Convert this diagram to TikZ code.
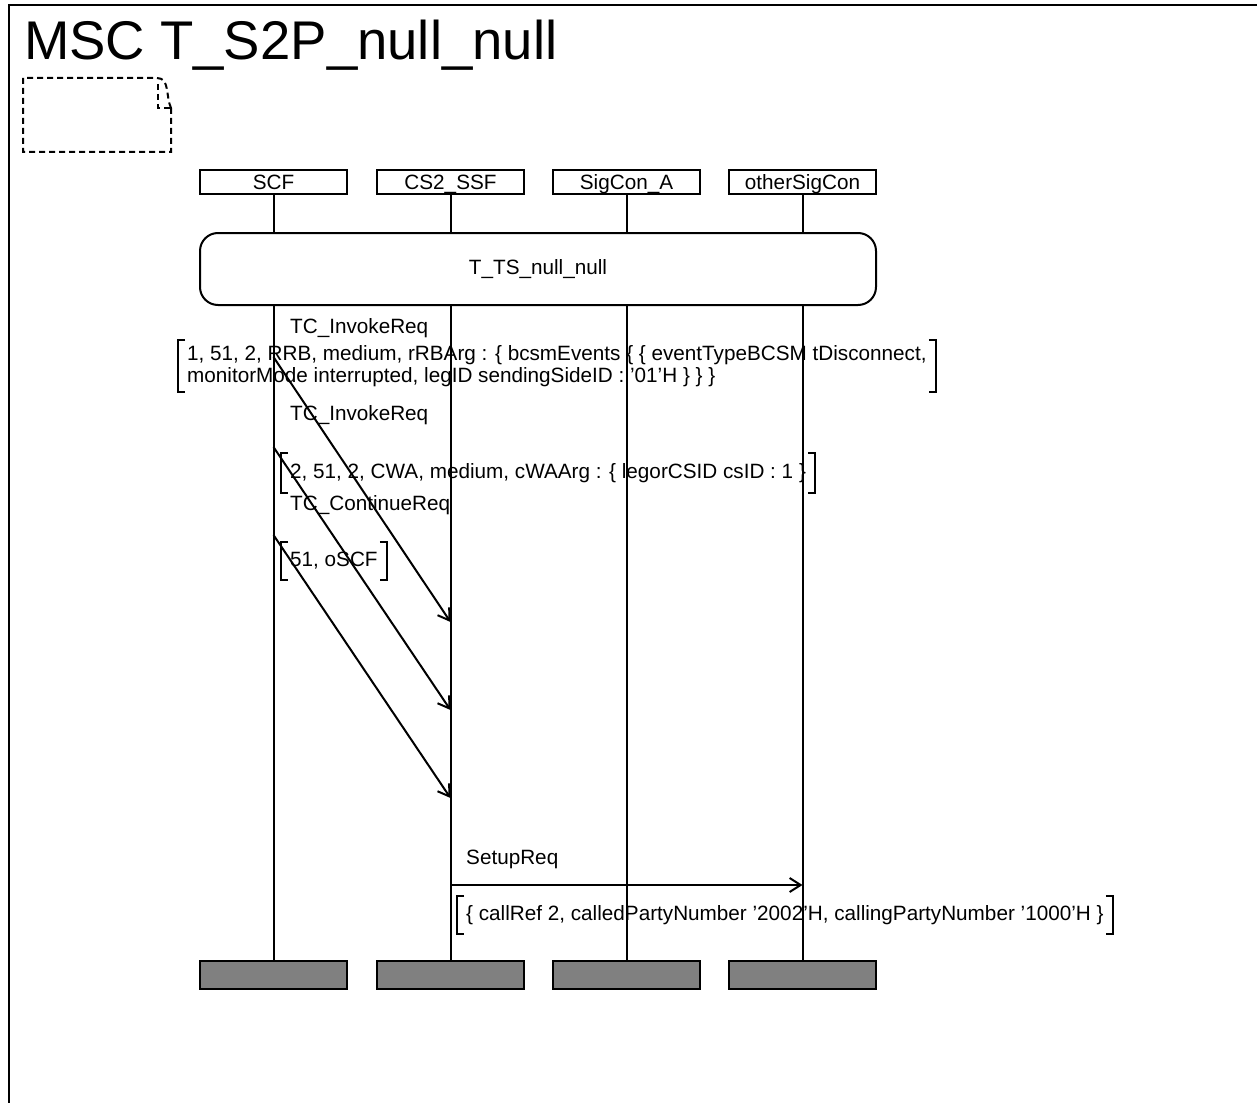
\documentclass[tikz,border=0pt]{standalone}
\usepackage{fontspec}
\setmainfont{Liberation Sans}
\usetikzlibrary{arrows.meta,calc}
\tikzset{
  base/.style={line width=2pt},
  txt/.style={font=\fontsize{20.7}{22.5}\selectfont, inner sep=0pt},
  head/.style={base, draw, txt, text height=17pt, text depth=2pt, minimum width=147pt, minimum height=24pt},
  endbox/.style={base, draw, fill=black!50, minimum width=147pt, minimum height=28pt, inner sep=0pt},
  life/.style={base},
  refbox/.style={base, draw, fill=white, rounded corners=18pt, txt, minimum width=676pt, minimum height=72pt},
  msg/.style={base, -{Straight Barb[length=11pt,width=14pt]}},
  lbl/.style={txt, anchor=base west},
  param/.style={txt, align=left, anchor=west, inner xsep=9pt, inner ysep=0pt},
  brk/.style={base},
}
\newcommand\brackets[1]{%
  \draw[brk] ([xshift=7pt]#1.north west) -| (#1.south west) -- ++(7,0);
  \draw[brk] ([xshift=-7pt]#1.north east) -| (#1.south east) -- ++(-7,0);}
\begin{document}
\begin{tikzpicture}[x=1pt,y=-1pt]
\useasboundingbox (0,0) rectangle (1257,1102);
% frame
\draw[line width=2pt] (9,1120) -- (9,5) -- (1270,5);
\node[anchor=base west, inner sep=0pt, font=\fontsize{54.5}{60}\selectfont] (title) at (24,60) {MSC T\_S2P\_null\_null};
% comment symbol
\draw[base, dashed, dash pattern=on 6pt off 4pt] (171,108) -- (171,152) -- (23,152) -- (23,78) -- (157,78) to[out=0,in=115] (171,108);
\draw[base, dashed, dash pattern=on 6pt off 4pt] (158,84) -- (158,108) -- (171,108);
% instance heads
\node[head] (scf) at (273.5,182) {SCF};
\node[head] (ssf) at (450.5,182) {CS2\_SSF};
\node[head] (sca) at (626.5,182) {SigCon\_A};
\node[head] (osc) at (802.5,182) {otherSigCon};
% instance ends
\node[endbox] (scfe) at (273.5,975) {};
\node[endbox] (ssfe) at (450.5,975) {};
\node[endbox] (scae) at (626.5,975) {};
\node[endbox] (osce) at (802.5,975) {};
% lifelines
\draw[life] (scf) -- (scfe);
\draw[life] (ssf) -- (ssfe);
\draw[life] (sca) -- (scae);
\draw[life] (osc) -- (osce);
% reference
\node[refbox] (ref) at (538,269) {T\_TS\_null\_null};
% message 1
\node[lbl] (l1) at (290,333) {TC\_InvokeReq};
\node[param, minimum height=52pt] (p1) at (178,366) {1, 51, 2, RRB, medium, rRBArg : \{ bcsmEvents \{ \{ eventTypeBCSM tDisconnect,\\monitorMode interrupted, legID sendingSideID : ’01’H \} \} \}};
\brackets{p1}
\coordinate (m1s) at (scf |- 0,357);
\coordinate (m1e) at (ssf |- 0,622);
\draw[msg] (m1s) -- (m1e);
% message 2
\node[lbl] (l2) at (290,420) {TC\_InvokeReq};
\node[param, minimum height=40pt] (p2) at (281,473) {2, 51, 2, CWA, medium, cWAArg : \{ legorCSID csID : 1 \}};
\brackets{p2}
\coordinate (m2s) at (scf |- 0,447);
\coordinate (m2e) at (ssf |- 0,710);
\draw[msg] (m2s) -- (m2e);
% message 3
\node[lbl] (l3) at (290,510) {TC\_ContinueReq};
\node[param, minimum height=38pt] (p3) at (281,561) {51, oSCF};
\brackets{p3}
\coordinate (m3s) at (scf |- 0,535);
\coordinate (m3e) at (ssf |- 0,798);
\draw[msg] (m3s) -- (m3e);
% message 4
\node[lbl] (l4) at (466,864) {SetupReq};
\node[param, minimum height=37pt] (p4) at (457,915) {\{ callRef 2, calledPartyNumber ’2002’H, callingPartyNumber ’1000’H \}};
\brackets{p4}
\coordinate (m4s) at (ssf |- 0,885);
\coordinate (m4e) at (osc |- 0,885);
\draw[msg] (m4s) -- (m4e);
\end{tikzpicture}
\end{document}
